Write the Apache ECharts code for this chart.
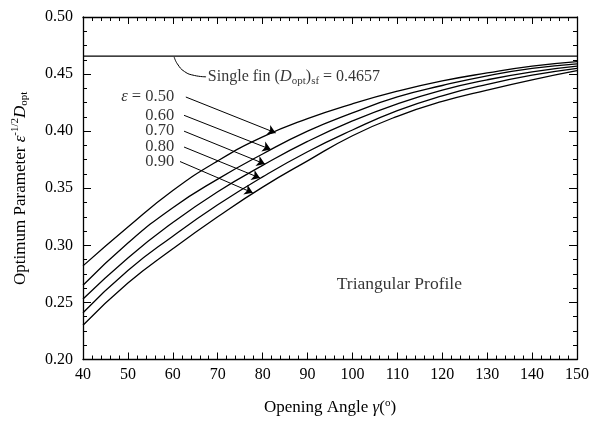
<!DOCTYPE html>
<html>
<head>
<meta charset="utf-8">
<script src="https://cdn.jsdelivr.net/npm/echarts@6/dist/echarts.min.js"></script>
<style>
html,body{margin:0;padding:0;background:#fff;}
#main{width:596px;height:421px;}
</style>
</head>
<body>
<div id="main"></div>
<script>
// opening angle (deg)
const angles = [40, 50, 60, 70, 80, 90, 100, 110, 120, 130, 140, 150];
// eps^-1/2 * D_opt for each epsilon
const eps050 = [0.282, 0.316, 0.348, 0.374, 0.395, 0.411, 0.424, 0.435, 0.444, 0.451, 0.457, 0.461];
const eps060 = [0.265, 0.302, 0.333, 0.358, 0.380, 0.400, 0.416, 0.430, 0.440, 0.4485, 0.455, 0.459];
const eps070 = [0.253, 0.289, 0.320, 0.347, 0.370, 0.391, 0.409, 0.424, 0.436, 0.445, 0.452, 0.457];
const eps080 = [0.241, 0.278, 0.308, 0.3355, 0.360, 0.382, 0.401, 0.418, 0.431, 0.441, 0.449, 0.455];
const eps090 = [0.230, 0.267, 0.297, 0.325, 0.351, 0.374, 0.396, 0.413, 0.426, 0.436, 0.445, 0.453];
const curves = [eps050, eps060, eps070, eps080, eps090];
const epsNames = ['0.50', '0.60', '0.70', '0.80', '0.90'];

// single fin optimum
const singleFin = 0.4657;

// annotation anchors (data coords)
const epsLabelAt = [[60.3, 0.4304], [60.3, 0.4139], [60.3, 0.4000], [60.3, 0.3867], [60.3, 0.3737]];
const arrowFrom = [[62.9, 0.4299], [62.5, 0.4139], [62.5, 0.4000], [62.5, 0.3861], [61.6, 0.3734]];
const arrowTo = [[82.9, 0.3985], [81.8, 0.3840], [80.5, 0.3712], [79.4, 0.3590], [77.8, 0.3460]];
const leaderPts = [[60.3, 0.4650], [61.0, 0.4590], [62.6, 0.4522], [64.8, 0.4488], [67.4, 0.4476]];
const finLabelAt = [67.8, 0.4476];
const profileLabelAt = [96.5, 0.2661];

const FONT = '"Liberation Serif", "Times New Roman", serif';
const chart = echarts.init(document.getElementById('main'));

function mkX(pos, showLabel, name) {
    return {
        type: 'value', position: pos, min: 40, max: 150, interval: 10,
        name: name || '', nameLocation: 'middle', nameGap: 38,
        nameTextStyle: {
            fontFamily: FONT, fontSize: 17, color: '#000',
            rich: {
                it: {fontFamily: FONT, fontSize: 17, fontStyle: 'italic', color: '#000'},
                sup: {fontFamily: FONT, fontSize: 11, color: '#000', padding: [0, 0, 9, 0]}
            }
        },
        axisLine: {show: true, onZero: false, lineStyle: {color: '#000', width: 1.3}},
        axisTick: {show: true, inside: true, length: 7, lineStyle: {color: '#000', width: 1}},
        minorTick: {show: true, splitNumber: 5, length: 4, lineStyle: {color: '#000', width: 1}},
        axisLabel: {show: showLabel, fontFamily: FONT, fontSize: 16, color: '#000', margin: 7},
        splitLine: {show: false}, minorSplitLine: {show: false}
    };
}
function mkY(pos, showLabel, name) {
    return {
        type: 'value', position: pos, min: 0.2, max: 0.5, interval: 0.05,
        name: name || '', nameLocation: 'middle', nameGap: 52, nameRotate: 90,
        nameTextStyle: {
            fontFamily: FONT, fontSize: 17, color: '#000',
            rich: {
                it: {fontFamily: FONT, fontSize: 17, fontStyle: 'italic', color: '#000'},
                sup: {fontFamily: FONT, fontSize: 11, color: '#000', padding: [0, 0, 10, 0]},
                sub: {fontFamily: FONT, fontSize: 11, color: '#000', padding: [7, 0, 0, 0]}
            }
        },
        axisLine: {show: true, onZero: false, lineStyle: {color: '#000', width: 1.3}},
        axisTick: {show: true, inside: true, length: 8, lineStyle: {color: '#000', width: 1}},
        minorTick: {show: true, splitNumber: 4, length: 4, lineStyle: {color: '#000', width: 1}},
        axisLabel: {show: showLabel, fontFamily: FONT, fontSize: 16, color: '#000', margin: 10,
            formatter: function (v) { return v.toFixed(2); }},
        splitLine: {show: false}, minorSplitLine: {show: false}
    };
}

let series = [];
curves.forEach(function (c, i) {
    series.push({
        name: 'eps ' + epsNames[i], type: 'line', smooth: 0.5, symbol: 'none',
        data: angles.map(function (a, k) { return [a, c[k]]; }),
        lineStyle: {color: '#000', width: 1.3}, silent: true
    });
});
// single fin line + arrows
series.push({
    type: 'line', symbol: 'none', silent: true,
    data: [[angles[0], singleFin], [angles[angles.length - 1], singleFin]],
    lineStyle: {color: '#000', width: 1.3},
    markLine: {
        silent: true, symbol: ['none', 'arrow'], symbolSize: 8, animation: false,
        label: {show: false},
        lineStyle: {color: '#000', width: 1, type: 'solid'},
        data: arrowFrom.map(function (p, i) { return [{coord: p}, {coord: arrowTo[i]}]; })
    }
});
// curved leader
series.push({
    type: 'line', symbol: 'none', smooth: true, silent: true,
    data: leaderPts, lineStyle: {color: '#000', width: 1}
});
// text labels
let textData = epsLabelAt.map(function (p, i) {
    return {value: p, label: {position: 'left', distance: 0, fontSize: 16.5,
        formatter: i === 0 ? '{it|ε} = ' + epsNames[i] : epsNames[i]}};
});
textData.push({value: finLabelAt, label: {position: 'right', distance: 0,
    formatter: 'Single fin ({it|D}{sub|opt}){sub|sf} = ' + singleFin}});
textData.push({value: profileLabelAt, label: {position: 'right', distance: 0, fontSize: 17.5,
    formatter: 'Triangular Profile'}});
series.push({
    type: 'scatter', symbolSize: 0, silent: true, data: textData,
    label: {
        show: true, fontFamily: FONT, fontSize: 16, color: '#000',
        rich: {
            it: {fontFamily: FONT, fontSize: 16.5, fontStyle: 'italic', color: '#000'},
            sub: {fontFamily: FONT, fontSize: 11, color: '#000', padding: [8, 0, 0, 0]}
        }
    }
});

chart.setOption({
    backgroundColor: '#fff',
    animation: false,
    grid: {left: 83, right: 19, top: 17, bottom: 58, containLabel: false},
    xAxis: [mkX('bottom', true, 'Opening Angle {it|γ}({sup|o})'), mkX('top', false)],
    yAxis: [mkY('left', true, 'Optimum Parameter {it|ε}{sup|-1/2}{it|D}{sub|opt}'), mkY('right', false)],
    series: series
});
</script>
</body>
</html>
